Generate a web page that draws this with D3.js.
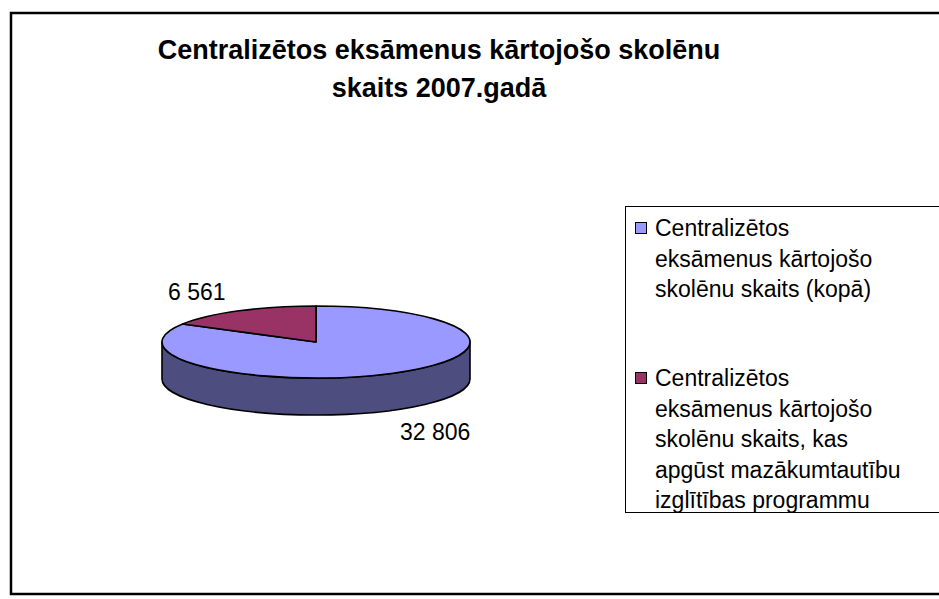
<!DOCTYPE html>
<html>
<head>
<meta charset="utf-8">
<script src="https://cdn.jsdelivr.net/npm/d3@7/dist/d3.min.js"></script>
<style>
  html, body { margin: 0; padding: 0; background: #fff; }
  svg { display: block; font-family: "Liberation Sans", Arial, sans-serif; }
</style>
</head>
<body>
<svg id="chart" width="939" height="599"></svg>
<script>
// ---- data ----
const categories = [
  "Centralizētos eksāmenus kārtojošo skolēnu skaits (kopā)",
  "Centralizētos eksāmenus kārtojošo skolēnu skaits, kas apgūst mazākumtautību izglītības programmu"
];
const values = [32806, 6561];
const valueLabels = ["32 806", "6 561"];
const legendLines = [
  ["Centralizētos", "eksāmenus kārtojošo", "skolēnu skaits (kopā)"],
  ["Centralizētos", "eksāmenus kārtojošo", "skolēnu skaits, kas", "apgūst mazākumtautību", "izglītības programmu"]
];
const titleLines = ["Centralizētos eksāmenus kārtojošo skolēnu", "skaits 2007.gadā"];

const topColors = ["#9999FF", "#993366"];
const sideColors = ["#4D4D80", "#4D1A33"];

const svg = d3.select("#chart");

// outer border
svg.append("rect").attr("x", 11).attr("y", 13).attr("width", 960).attr("height", 581)
  .attr("fill", "#fff").attr("stroke", "#000").attr("stroke-width", 2.5);

// title
svg.append("g").selectAll("text").data(titleLines).join("text")
  .attr("x", 439)
  .attr("y", (d, i) => i === 0 ? 59 : 97)
  .attr("text-anchor", "middle")
  .attr("font-size", 27).attr("font-weight", "bold").attr("fill", "#000")
  .text(d => d);

// ---- 3D pie ----
const cx = 316, cy = 342, rx = 154, ry = 36, depth = 37;
const pie = d3.pie().sort(null).startAngle(0).endAngle(2 * Math.PI);
const arcs = pie(values);
const px = a => cx + rx * Math.sin(a);
const py = a => cy - ry * Math.cos(a);

const g = svg.append("g").attr("stroke", "#000").attr("stroke-width", 1.6).attr("stroke-linejoin", "round");

// sides (front half visible: angles between PI/2 and 3PI/2)
arcs.forEach((d, i) => {
  const s = Math.max(d.startAngle, Math.PI / 2);
  const e = Math.min(d.endAngle, 3 * Math.PI / 2);
  if (e <= s) return;
  const large = (e - s) > Math.PI ? 1 : 0;
  const p = `M${px(s)},${py(s)} L${px(s)},${py(s) + depth}` +
    ` A${rx},${ry} 0 ${large} 1 ${px(e)},${py(e) + depth}` +
    ` L${px(e)},${py(e)} A${rx},${ry} 0 ${large} 0 ${px(s)},${py(s)} Z`;
  g.append("path").attr("d", p).attr("fill", sideColors[i]);
});

// tops
arcs.forEach((d, i) => {
  const s = d.startAngle, e = d.endAngle;
  const large = (e - s) > Math.PI ? 1 : 0;
  const p = `M${cx},${cy} L${px(s)},${py(s)} A${rx},${ry} 0 ${large} 1 ${px(e)},${py(e)} Z`;
  g.append("path").attr("d", p).attr("fill", topColors[i]);
});

// data labels
const labelPos = [[400, 440], [168, 300]];
svg.append("g").selectAll("text").data(valueLabels).join("text")
  .attr("x", (d, i) => labelPos[i][0]).attr("y", (d, i) => labelPos[i][1])
  .attr("font-size", 23).attr("fill", "#000").text(d => d);

// ---- legend ----
svg.append("rect").attr("x", 625.5).attr("y", 206.5).attr("width", 330).attr("height", 306)
  .attr("fill", "#fff").attr("stroke", "#000").attr("stroke-width", 1);

const legendTop = [236, 386];
const lineH = 30.5;
const lg = svg.append("g");
legendLines.forEach((lines, i) => {
  lg.append("rect").attr("x", 635.5).attr("y", legendTop[i] - 13.5).attr("width", 11).attr("height", 11)
    .attr("fill", topColors[i]).attr("stroke", "#000").attr("stroke-width", 1);
  lg.append("g").selectAll("text").data(lines).join("text")
    .attr("x", 655).attr("y", (d, j) => legendTop[i] + j * lineH)
    .attr("font-size", 23).attr("fill", "#000").text(d => d);
});
</script>
</body>
</html>
